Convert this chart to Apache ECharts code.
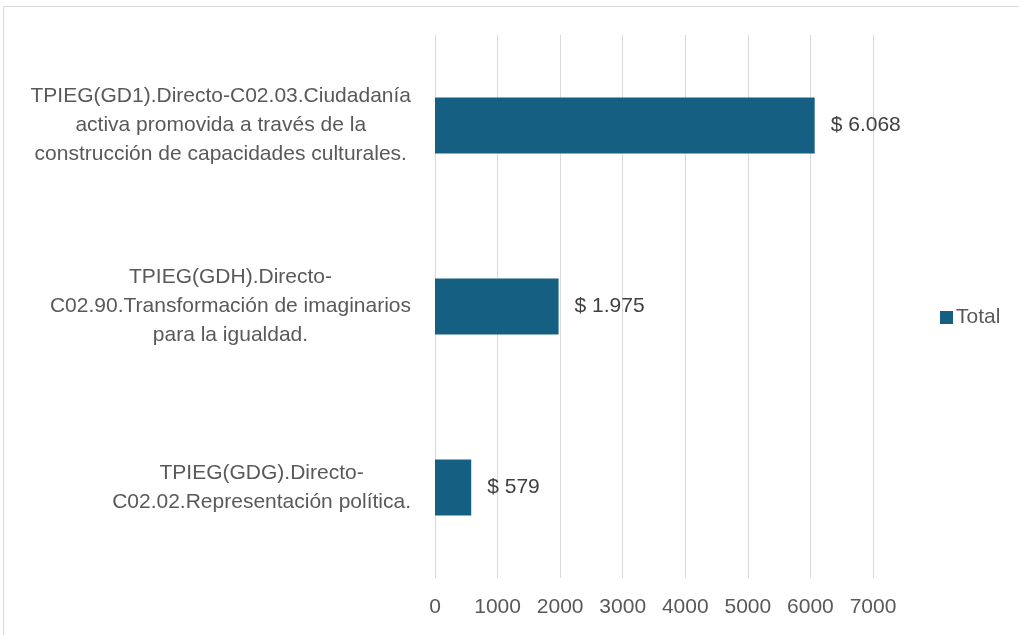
<!DOCTYPE html>
<html>
<head>
<meta charset="utf-8">
<script src="https://cdn.jsdelivr.net/npm/echarts@6/dist/echarts.min.js"></script>
<style>
html,body{margin:0;padding:0;background:#fff}
#main{width:1019px;height:635px}
</style>
</head>
<body>
<div id="main"></div>
<script>
var categorias = [
    'TPIEG(GD1).Directo-C02.03.Ciudadanía\nactiva promovida a través de la\nconstrucción de capacidades culturales.',
    'TPIEG(GDH).Directo-\nC02.90.Transformación de imaginarios\npara la igualdad.',
    'TPIEG(GDG).Directo-\nC02.02.Representación política.'
]
var valores = [6068, 1975, 579]
var ejeMin = 0, ejeMax = 7000, ejeIntervalo = 1000

function formatoPesos(v){
    return '$ ' + String(v).replace(/\B(?=(\d{3})+(?!\d))/g, '.')
}

var myChart = echarts.init(document.getElementById('main'))
var fuente = 'Liberation Sans'
option = {
    animation: false,
    textStyle: {fontFamily: fuente},
    graphic: [{
        type: 'rect',
        shape: {x: 3.5, y: 6.5, width: 1100, height: 700},
        style: {fill: 'none', stroke: '#d9d9d9', lineWidth: 1},
        silent: true
    }],
    grid: {left: 435, right: 146, top: 35, bottom: 57},
    legend: {
        data: ['Total'],
        orient: 'vertical',
        left: 935,
        top: 'middle',
        itemWidth: 13,
        itemHeight: 13,
        itemGap: 4,
        icon: 'rect',
        textStyle: {fontSize: 21, color: '#595959', fontFamily: fuente, padding: [0, 0, 0, -2]}
    },
    xAxis: {
        type: 'value',
        min: ejeMin,
        max: ejeMax,
        interval: ejeIntervalo,
        axisLine: {show: false},
        axisTick: {show: false},
        splitLine: {lineStyle: {color: '#d9d9d9', width: 1}},
        axisLabel: {
            fontSize: 21, color: '#595959', margin: 19, fontFamily: fuente,
            formatter: function (v) { return String(v) }
        }
    },
    yAxis: {
        type: 'category',
        inverse: true,
        data: categorias,
        axisLine: {show: false},
        axisTick: {show: false},
        axisLabel: {
            align: 'right',
            margin: 24,
            formatter: function (v) {
                // cada línea centrada dentro del bloque, bloque alineado a la derecha
                return v.split('\n').map(function (l) { return '{c|' + l + '}' }).join('\n')
            },
            rich: {
                c: {
                    fontSize: 21,
                    color: '#595959',
                    align: 'center',
                    lineHeight: 29,
                    fontFamily: fuente
                }
            }
        }
    },
    series: [{
        name: 'Total',
        type: 'bar',
        data: valores,
        barWidth: 56,
        itemStyle: {color: '#156082'},
        label: {
            show: true,
            position: 'right',
            distance: 16,
            fontSize: 21,
            color: '#404040',
            fontFamily: fuente,
            formatter: function (p) { return formatoPesos(p.value) }
        }
    }]
}
myChart.setOption(option)
</script>
</body>
</html>
